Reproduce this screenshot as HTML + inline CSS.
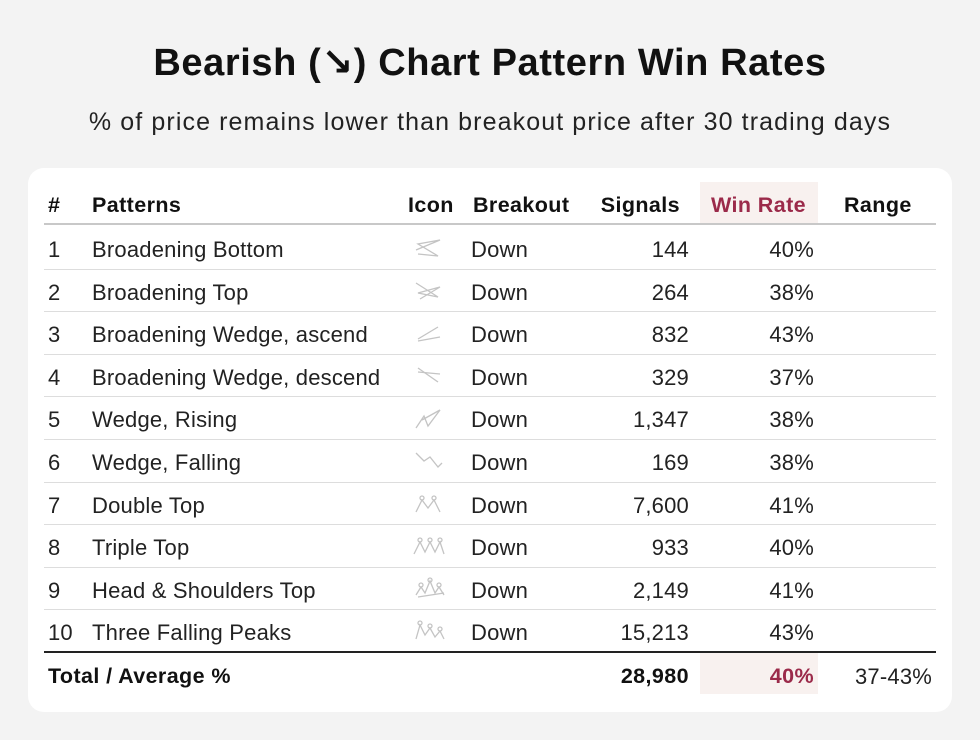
<!DOCTYPE html>
<html><head><meta charset="utf-8"><style>
body{margin:0;width:980px;height:740px;background:#f3f3f3;font-family:"Liberation Sans","DejaVu Sans",sans-serif;color:#222;position:relative;overflow:hidden}
.abs{position:absolute;white-space:nowrap}
#title{left:0;width:980px;top:40px;text-align:center;font-size:38px;font-weight:bold;color:#111;letter-spacing:0.6px}
#sub{left:0;width:980px;top:108px;text-align:center;font-size:25px;color:#222;letter-spacing:1.1px}
#card{left:28px;top:168px;width:924px;height:544px;background:#fff;border-radius:16px}
.h{font-weight:bold;font-size:21.5px;color:#111;letter-spacing:0.4px}
.c{font-size:22px;color:#222;letter-spacing:0.2px}
.line{position:absolute;left:44px;width:892px}
</style></head><body>
<div class="abs" id="title">Bearish (↘) Chart Pattern Win Rates</div>
<div class="abs" id="sub">% of price remains lower than breakout price after 30 trading days</div>
<div class="abs" id="card"></div>
<div class="abs" style="left:700px;top:182px;width:118px;height:43px;background:#f8f1ef"></div>
<div class="abs" style="left:700px;top:652px;width:118px;height:42px;background:#f8f1ef"></div>
<div class="abs h" style="left:48px;top:193px">#</div>
<div class="abs h" style="left:92px;top:193px">Patterns</div>
<div class="abs h" style="left:408px;top:193px">Icon</div>
<div class="abs h" style="left:473px;top:193px">Breakout</div>
<div class="abs h" style="right:300px;top:193px">Signals</div>
<div class="abs h" style="right:174px;top:193px;color:#9b2a4a">Win Rate</div>
<div class="abs h" style="left:844px;top:193px">Range</div>
<div class="line" style="top:223px;height:2px;background:#c8c8c8"></div>
<div id="rows"></div>
<div class="line" style="top:651px;height:2px;background:#222"></div>
<div class="abs h" style="left:48px;top:664px">Total / Average %</div>
<div class="abs h" style="right:291px;top:664px">28,980</div>
<div class="abs h" style="right:166px;top:664px;color:#9b2a4a">40%</div>
<div class="abs c" style="left:855px;top:664px">37-43%</div>
<script>
const patterns=["Broadening Bottom","Broadening Top","Broadening Wedge, ascend","Broadening Wedge, descend","Wedge, Rising","Wedge, Falling","Double Top","Triple Top","Head & Shoulders Top","Three Falling Peaks"];
const signals=["144","264","832","329","1,347","169","7,600","933","2,149","15,213"];
const winRates=[40,38,43,37,38,38,41,40,41,43];
const iconTypes=["bb","bt","bwa","bwd","wr","wf","dt","tt","hs","tfp"];
const icons={
bb:'<polyline points="4,14 28,4 6,8 26,20 6,18" />',
bt:'<polyline points="4,4 26,18 6,14 28,8 8,20" />',
bwa:'<line x1="6" y1="18" x2="26" y2="6"/><line x1="6" y1="20" x2="28" y2="16"/>',
bwd:'<line x1="6" y1="4" x2="26" y2="18"/><line x1="6" y1="8" x2="28" y2="10"/>',
wr:'<polyline points="4,22 12,10 16,20 28,4"/><line x1="10" y1="14" x2="28" y2="4"/>',
wf:'<polyline points="4,4 12,12 18,8 26,18 30,14"/>',
dt:'<polyline points="4,20 10,8 16,16 22,8 28,20"/><circle cx="10" cy="6" r="2"/><circle cx="22" cy="6" r="2"/>',
tt:'<polyline points="2,20 8,8 13,18 18,8 23,18 28,8 32,20"/><circle cx="8" cy="6" r="2"/><circle cx="18" cy="6" r="2"/><circle cx="28" cy="6" r="2"/>',
hs:'<polyline points="4,18 9,10 13,16 18,4 23,16 27,10 32,18"/><circle cx="9" cy="8" r="2"/><circle cx="18" cy="3" r="2"/><circle cx="27" cy="8" r="2"/><line x1="6" y1="20" x2="32" y2="16"/>',
tfp:'<polyline points="4,20 8,6 13,16 18,9 23,18 28,12 32,20"/><circle cx="8" cy="4" r="2"/><circle cx="18" cy="7" r="2"/><circle cx="28" cy="10" r="2"/>'
};
const rowsEl=document.getElementById('rows');
const top0=228, rowH=42.6;
patterns.forEach((p,i)=>{
  const y=top0+i*rowH;
  const g=document.createElement('div');
  
  
  g.innerHTML=
   `<div class="abs c" style="left:48px;top:${y+9}px">${i+1}</div>`+
   `<div class="abs c" style="left:92px;top:${y+9}px">${p}</div>`+
   `<svg class="abs" style="left:412px;top:${y+8}px" width="36" height="26" fill="none" stroke="#c4c4c4" stroke-width="1.3">${icons[iconTypes[i]]}</svg>`+
   `<div class="abs c" style="left:471px;top:${y+9}px">Down</div>`+
   `<div class="abs c" style="right:291px;top:${y+9}px">${signals[i]}</div>`+
   `<div class="abs c" style="right:166px;top:${y+9}px">${winRates[i]}%</div>`+
   (i<patterns.length-1?`<div class="line" style="top:${y+rowH-2}px;height:1px;background:#ddd"></div>`:'');
  rowsEl.appendChild(g);
});
</script>
</body></html>
